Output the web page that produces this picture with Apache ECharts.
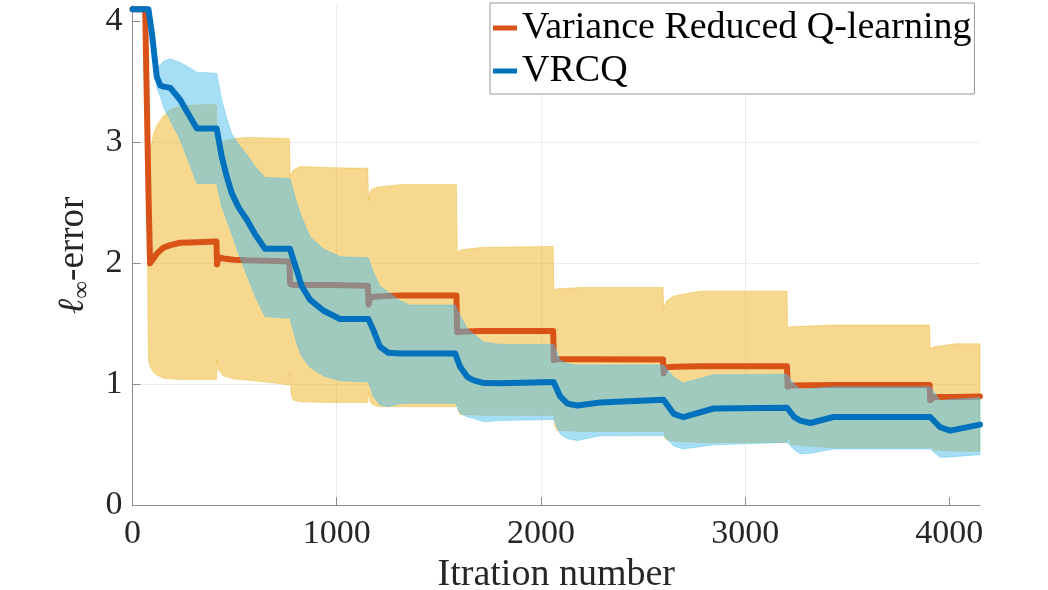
<!DOCTYPE html>
<html>
<head>
<meta charset="utf-8">
<title>VRCQ vs Variance Reduced Q-learning</title>
<script src="https://cdn.jsdelivr.net/npm/echarts@6/dist/echarts.min.js"></script>
<style>
  html, body { margin: 0; padding: 0; background: #fff; }
  #chart { width: 1048px; height: 590px; }
</style>
</head>
<body>
<div id="chart"></div>
<script>
// Variance Reduced Q-learning: iteration, mean error, upper / lower envelope
var vrqlIter = [0, 62, 78, 86, 103, 119, 152, 185, 234, 315,
  411, 414, 420, 445, 494, 560, 700, 768, 772, 777,
  786, 820, 983, 1152, 1156, 1162, 1170, 1200, 1310, 1586,
  1590, 1596, 1605, 1700, 2060, 2063, 2068, 2078, 2200, 2598,
  2601, 2606, 2616, 2650, 2780, 3205, 3208, 3213, 3225, 3433,
  3903, 3906, 3911, 3925, 4030, 4150];
var vrqlMean = [4.1, 4.1, 2.6, 2.0, 2.04, 2.08, 2.13, 2.15, 2.17, 2.175,
  2.18, 1.99, 2.05, 2.04, 2.03, 2.025, 2.02, 2.015, 1.83, 1.815,
  1.82, 1.82, 1.82, 1.815, 1.66, 1.70, 1.72, 1.725, 1.735, 1.735,
  1.43, 1.425, 1.435, 1.44, 1.44, 1.20, 1.205, 1.207, 1.207, 1.205,
  1.09, 1.12, 1.14, 1.145, 1.15, 1.15, 0.98, 0.985, 0.99, 0.995,
  0.995, 0.87, 0.885, 0.895, 0.895, 0.90];
var vrqlUpper = [4.1, 4.1, 2.82, 2.92, 3.07, 3.14, 3.22, 3.27, 3.30, 3.31,
  3.31, 3.00, 2.99, 3.01, 3.03, 3.04, 3.035, 3.03, 2.72, 2.74,
  2.77, 2.80, 2.79, 2.785, 2.52, 2.58, 2.61, 2.63, 2.65, 2.65,
  2.08, 2.10, 2.11, 2.13, 2.14, 1.79, 1.78, 1.79, 1.80, 1.80,
  1.62, 1.65, 1.69, 1.73, 1.77, 1.77, 1.47, 1.47, 1.475, 1.49,
  1.49, 1.29, 1.30, 1.31, 1.335, 1.335];
var vrqlLower = [4.1, 4.1, 1.20, 1.15, 1.10, 1.077, 1.05, 1.045, 1.04, 1.04,
  1.04, 1.20, 1.12, 1.07, 1.045, 1.035, 1.01, 0.995, 1.09, 0.92,
  0.87, 0.856, 0.85, 0.85, 0.94, 0.87, 0.84, 0.815, 0.815, 0.815,
  0.87, 0.78, 0.75, 0.745, 0.745, 0.78, 0.66, 0.62, 0.61, 0.61,
  0.64, 0.56, 0.54, 0.53, 0.52, 0.52, 0.60, 0.55, 0.50, 0.475,
  0.475, 0.53, 0.48, 0.455, 0.446, 0.446];

// VRCQ: iteration, mean error, upper / lower envelope
var vrcqIter = [0, 78, 95, 119, 136, 152, 185, 234, 275, 315,
  412, 437, 461, 486, 520, 560, 600, 649, 771, 804,
  829, 869, 934, 1016, 1155, 1179, 1212, 1253, 1310, 1359,
  1580, 1604, 1640, 1669, 1719, 1800, 2062, 2094, 2130, 2177,
  2291, 2600, 2650, 2698, 2845, 3205, 3240, 3270, 3320, 3433,
  3906, 3955, 4004, 4150];
var vrcqMean = [4.1, 4.1, 3.9, 3.54, 3.47, 3.46, 3.45, 3.35, 3.23, 3.115,
  3.115, 2.88, 2.72, 2.58, 2.46, 2.36, 2.24, 2.12, 2.12, 1.945,
  1.81, 1.70, 1.61, 1.54, 1.54, 1.45, 1.31, 1.26, 1.255, 1.255,
  1.255, 1.145, 1.06, 1.035, 1.01, 1.008, 1.02, 0.90, 0.84, 0.825,
  0.85, 0.873, 0.756, 0.728, 0.80, 0.806, 0.73, 0.70, 0.68, 0.73,
  0.73, 0.645, 0.617, 0.667];
var vrcqUpper = [4.1, 4.1, 3.9, 3.62, 3.64, 3.67, 3.69, 3.66, 3.62, 3.58,
  3.57, 3.35, 3.20, 3.07, 2.98, 2.90, 2.80, 2.71, 2.70, 2.50,
  2.38, 2.22, 2.12, 2.055, 2.045, 1.93, 1.81, 1.76, 1.69, 1.655,
  1.655, 1.57, 1.46, 1.42, 1.35, 1.33, 1.33, 1.20, 1.17, 1.16,
  1.16, 1.16, 1.06, 1.01, 1.08, 1.083, 1.0, 0.96, 0.965, 0.98,
  0.98, 0.867, 0.875, 0.89];
var vrcqLower = [4.1, 4.1, 3.9, 3.45, 3.38, 3.29, 3.18, 3.02, 2.84, 2.66,
  2.66, 2.47, 2.36, 2.24, 2.08, 1.90, 1.73, 1.56, 1.545, 1.34,
  1.23, 1.14, 1.07, 1.03, 1.02, 0.90, 0.83, 0.815, 0.84, 0.843,
  0.843, 0.76, 0.73, 0.72, 0.69, 0.70, 0.71, 0.59, 0.55, 0.535,
  0.575, 0.576, 0.49, 0.465, 0.50, 0.52, 0.46, 0.424, 0.43, 0.465,
  0.465, 0.396, 0.40, 0.418];

var xTicks = [0, 1000, 2000, 3000, 4000];
var yTicks = [0, 1, 2, 3, 4];

var serif = "'Liberation Serif', 'Times New Roman', serif";

function zip(xs, ys) {
  var out = [];
  for (var i = 0; i < xs.length; i++) out.push([xs[i], ys[i]]);
  return out;
}

// shaded envelope between lower and upper, drawn as one polygon in data coords
function band(xs, lo, hi, color, z) {
  return {
    type: 'custom',
    z: z,
    silent: true,
    data: [[xs[0], lo[0]]],
    renderItem: function (params, api) {
      var pts = [];
      for (var i = 0; i < xs.length; i++) pts.push(api.coord([xs[i], hi[i]]));
      for (var j = xs.length - 1; j >= 0; j--) pts.push(api.coord([xs[j], lo[j]]));
      return {
        type: 'polygon',
        shape: { points: pts },
        style: { fill: color, stroke: color, lineWidth: 0.8, opacity: 0.5 }
      };
    }
  };
}

function meanLine(name, xs, ys, color, z) {
  return {
    name: name,
    type: 'line',
    z: z,
    data: zip(xs, ys),
    symbol: 'none',
    lineStyle: { width: 6, color: color, cap: 'round', join: 'round' },
    itemStyle: { color: color }
  };
}

var chart = echarts.init(document.getElementById('chart'));
chart.setOption({
  animation: false,
  grid: { left: 132.5, right: 68, top: 5.6, bottom: 84.7, outerBoundsMode: 'none' },
  legend: {
    data: ['Variance Reduced Q-learning', 'VRCQ'],
    orient: 'vertical',
    left: 490,
    top: 3,
    padding: [6, 3, 4, 3],
    itemGap: 5,
    itemWidth: 24,
    itemHeight: 5,
    icon: 'rect',
    borderColor: '#999',
    borderWidth: 1,
    borderRadius: 0,
    backgroundColor: '#fff',
    selectedMode: false,
    textStyle: { fontFamily: serif, fontSize: 38, color: '#000' }
  },
  xAxis: {
    type: 'value',
    min: 0,
    max: 4150,
    interval: 1000,
    name: 'Itration number',
    nameLocation: 'middle',
    nameGap: 49,
    nameTextStyle: { fontFamily: serif, fontSize: 38, color: '#262626' },
    axisLine: { show: true, lineStyle: { color: '#8c8c8c', width: 1 } },
    axisTick: { show: true, inside: true, length: 8, customValues: xTicks,
      lineStyle: { color: '#8c8c8c' } },
    axisLabel: { customValues: xTicks, fontFamily: serif, fontSize: 34, color: '#262626', margin: 12,
      formatter: function (v) { return v % 1000 === 0 ? String(v) : ''; } },
    splitLine: { show: true, showMinLine: false, showMaxLine: false,
      lineStyle: { color: '#ebebeb', width: 1 } }
  },
  yAxis: {
    type: 'value',
    min: 0,
    max: 4.13,
    interval: 1,
    name: '{l|ℓ}{s|∞}{t|-error}',
    nameLocation: 'middle',
    nameGap: 38,
    nameTextStyle: {
      fontFamily: serif, fontSize: 37, color: '#262626',
      rich: {
        l: { fontFamily: serif, fontSize: 37, fontStyle: 'italic', color: '#262626', lineHeight: 42 },
        s: { fontFamily: serif, fontSize: 25, color: '#262626', lineHeight: 42, verticalAlign: 'bottom' },
        t: { fontFamily: serif, fontSize: 37, color: '#262626', lineHeight: 42 }
      }
    },
    axisLine: { show: true, lineStyle: { color: '#8c8c8c', width: 1 } },
    axisTick: { show: true, inside: true, length: 8, customValues: yTicks,
      lineStyle: { color: '#8c8c8c' } },
    axisLabel: { customValues: yTicks, fontFamily: serif, fontSize: 34, color: '#262626', margin: 10,
      formatter: function (v) { return Number.isInteger(v) ? String(v) : ''; } },
    splitLine: { show: true, showMinLine: false, showMaxLine: false,
      lineStyle: { color: '#ebebeb', width: 1 } }
  },
  series: [
    band(vrqlIter, vrqlLower, vrqlUpper, '#EDB120', 2),
    meanLine('Variance Reduced Q-learning', vrqlIter, vrqlMean, '#D95319', 3),
    band(vrcqIter, vrcqLower, vrcqUpper, '#4DBEEE', 4),
    meanLine('VRCQ', vrcqIter, vrcqMean, '#0072BD', 5)
  ]
});
</script>
</body>
</html>
